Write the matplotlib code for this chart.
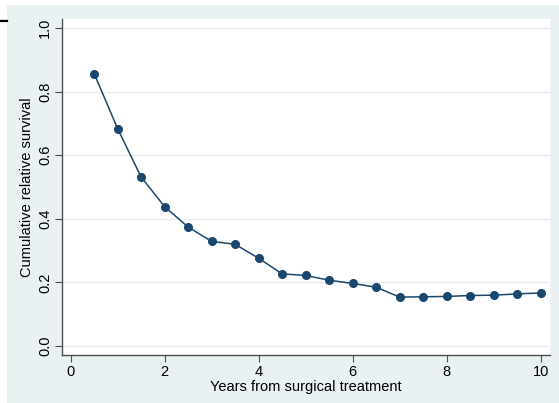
import matplotlib
matplotlib.use("Agg")
import matplotlib.pyplot as plt
from matplotlib.patches import Rectangle
from matplotlib.lines import Line2D

years = [0.5, 1.0, 1.5, 2.0, 2.5, 3.0, 3.5, 4.0, 4.5, 5.0,
         5.5, 6.0, 6.5, 7.0, 7.5, 8.0, 8.5, 9.0, 9.5, 10.0]
survival = [0.856, 0.683, 0.531, 0.438, 0.374, 0.329, 0.320, 0.276, 0.227, 0.222,
            0.207, 0.197, 0.185, 0.154, 0.155, 0.156, 0.159, 0.160, 0.164, 0.167]
x_ticks = [0, 2, 4, 6, 8, 10]
y_ticks = [0.0, 0.2, 0.4, 0.6, 0.8, 1.0]

plt.rcParams["font.family"] = ["Liberation Sans", "DejaVu Sans"]

W, H = 559, 403
fig = plt.figure(figsize=(W / 100, H / 100), dpi=100, facecolor="white")

# light graph region (Stata-like), leaves a thin white margin top/left
bg = "#EAF1F3"
fig.patches.append(Rectangle((7 / W, 0), 1 - 7 / W, 1 - 5 / H,
                             transform=fig.transFigure, facecolor=bg,
                             edgecolor="none", zorder=-10))
# short black rule at the very left edge
fig.add_artist(Line2D([0, 7 / W], [1 - 21 / H, 1 - 21 / H],
                      transform=fig.transFigure, color="black", lw=1.6))

ax = fig.add_axes([62 / W, 1 - 355 / H, (550 - 62) / W, (355 - 19) / H])
ax.set_facecolor("white")

navy = "#1A476F"
ax.plot(years, survival, color=navy, lw=1.1, marker="o", ms=5.5,
        markerfacecolor=navy, markeredgecolor=navy, zorder=3)

ax.set_xlim(-0.185, 10.2)
ax.set_ylim(-0.028, 1.028)
ax.set_xticks(x_ticks)
ax.set_xticklabels([str(t) for t in x_ticks])
ax.set_yticks(y_ticks)
ax.set_yticklabels([f"{t:.1f}" for t in y_ticks], rotation=90, va="center")

ax.yaxis.grid(True, color="#E6EEF1", lw=1.0)
ax.set_axisbelow(True)

for side in ["top", "right"]:
    ax.spines[side].set_visible(False)
for side in ["left", "bottom"]:
    ax.spines[side].set_color("#4d4d4d")
    ax.spines[side].set_linewidth(1.0)

ax.tick_params(axis="both", colors="#4d4d4d", labelcolor="black",
               length=5, width=0.8, labelsize=10.5)
ax.tick_params(axis="x", pad=2)
ax.tick_params(axis="y", pad=2)

ax.set_xlabel("Years from surgical treatment", fontsize=10.5, labelpad=1)
ax.set_ylabel("Cumulative relative survival", fontsize=10.5, labelpad=3)

fig.savefig("out.png", dpi=100, facecolor="white")
